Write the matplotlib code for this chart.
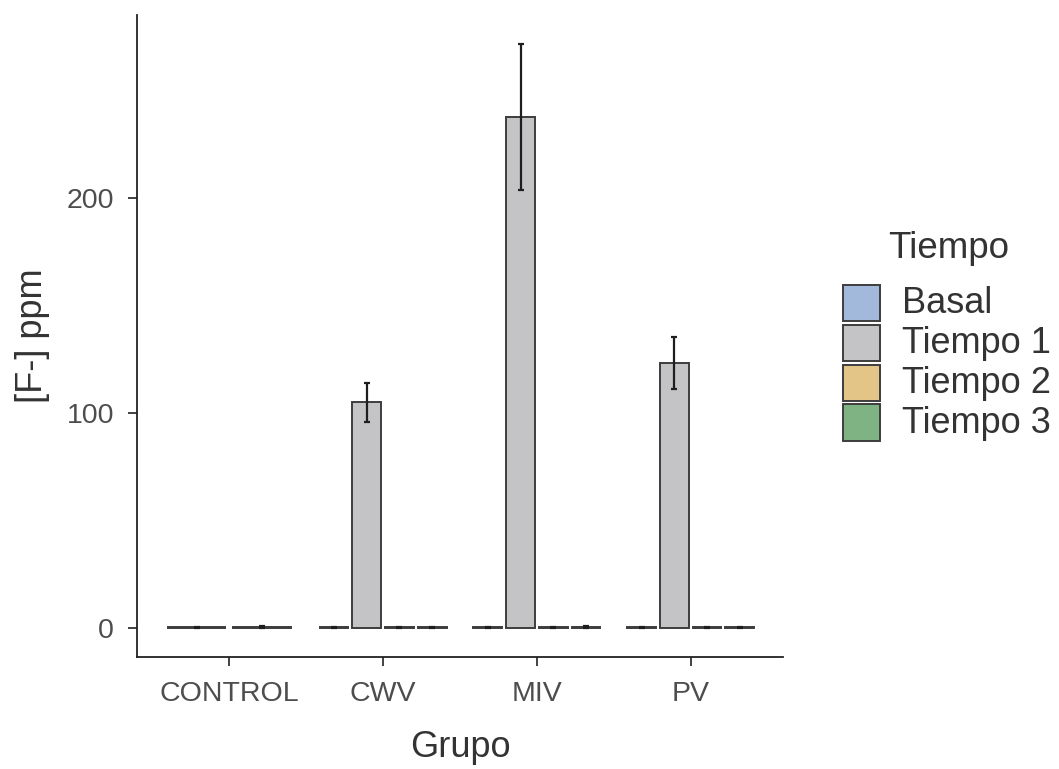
import numpy as np
import matplotlib
matplotlib.use("Agg")
import matplotlib.pyplot as plt
from matplotlib.patches import Rectangle

plt.rcParams['font.family'] = ['Liberation Sans', 'DejaVu Sans']

# Data: mean fluoride concentration ([F-] ppm) and standard error per group and time point
grupos = ["CONTROL", "CWV", "MIV", "PV"]
tiempos = ["Basal", "Tiempo 1", "Tiempo 2", "Tiempo 3"]
colores = ["#A3B9DB", "#C4C4C6", "#E2C587", "#80B383"]

media = {
    "Basal":    [0.3, 0.3, 0.3, 0.3],
    "Tiempo 1": [None, 105.0, 237.8, 123.3],
    "Tiempo 2": [0.4, 0.3, 0.3, 0.3],
    "Tiempo 3": [None, 0.3, 0.4, 0.3],
}
error = {
    "Basal":    [0.3, 0.2, 0.2, 0.2],
    "Tiempo 1": [None, 9.1, 33.9, 12.1],
    "Tiempo 2": [0.4, 0.2, 0.2, 0.2],
    "Tiempo 3": [None, 0.2, 0.3, 0.2],
}

W, H = 1059, 769
fig = plt.figure(figsize=(W / 100, H / 100), dpi=100)
ax = fig.add_axes([137 / W, 1 - 657 / H, (783 - 137) / W, (657 - 15) / H])

dodge = 0.85
ancho_total = 0.75
edge = "#3d3d3d"

for g, grupo in enumerate(grupos):
    presentes = [t for t in tiempos if media[t][g] is not None]
    n = len(presentes)
    for i, t in enumerate(presentes):
        x = g + (i - (n - 1) / 2) * dodge / n
        ax.bar(x, media[t][g], width=ancho_total / n,
               color=colores[tiempos.index(t)], edgecolor=edge, linewidth=1.4, zorder=2)
        ax.errorbar(x, media[t][g], yerr=error[t][g], fmt="none",
                    ecolor="#1e1e1e", elinewidth=1.6, capsize=2, capthick=1.6, zorder=3)

tope = max(media["Tiempo 1"][g] + error["Tiempo 1"][g] for g in range(1, 4))
ax.set_ylim(-0.05 * tope, 1.05 * tope)
ax.set_xlim(-0.6, len(grupos) - 1 + 0.6)
ax.set_xticks(range(len(grupos)))
ax.set_xticklabels(grupos)
ax.set_yticks([0, 100, 200])

for s in ["top", "right"]:
    ax.spines[s].set_visible(False)
for s in ["left", "bottom"]:
    ax.spines[s].set_linewidth(1.3)
    ax.spines[s].set_color("#222222")

ax.tick_params(axis="both", length=6.5, width=1.3, color="#333333",
               labelsize=20.5, labelcolor="#4d4d4d")
ax.tick_params(axis="y", pad=10)
ax.tick_params(axis="x", pad=11)

ax.set_xlabel("Grupo", fontsize=26, color="#333333", labelpad=16)
ax.set_ylabel("[F-] ppm", fontsize=26, color="#333333", labelpad=12)

# Legend drawn in figure pixel coordinates
fig.text(888 / W, 1 - 248 / H, "Tiempo", fontsize=26.5, color="#333333",
         ha="left", va="center")
for k, (t, c) in enumerate(zip(tiempos, colores)):
    yc = 303 + 40 * k
    fig.patches.append(Rectangle((843 / W, 1 - (yc + 18.5) / H), 37 / W, 37 / H,
                                 transform=fig.transFigure, facecolor=c,
                                 edgecolor=edge, linewidth=1.4))
    fig.text(902 / W, 1 - (yc + 1) / H, t, fontsize=26, color="#333333",
             ha="left", va="center")

fig.savefig("out.png", dpi=100)
